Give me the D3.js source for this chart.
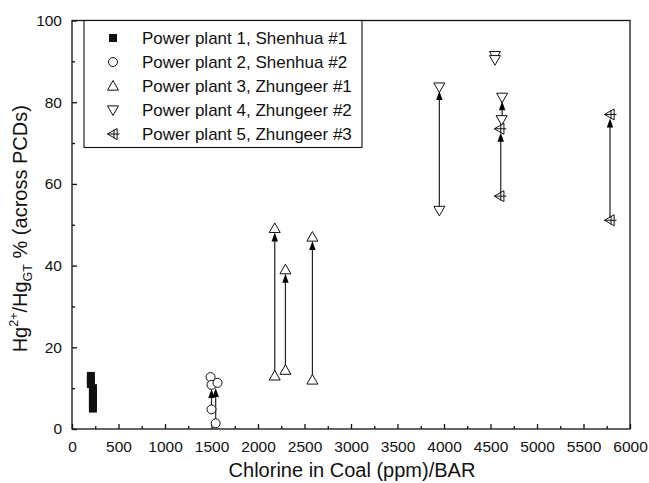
<!DOCTYPE html>
<html>
<head>
<meta charset="utf-8">
<script src="https://cdn.jsdelivr.net/npm/d3@7/dist/d3.min.js"></script>
<style>
  html, body { margin: 0; padding: 0; background: #fff; }
  svg { display: block; font-family: "Liberation Sans", Arial, sans-serif; }
</style>
</head>
<body>
<svg id="chart" width="649" height="483"></svg>
<script>
// ---- data ----
const seriesNames = [
  "Power plant 1, Shenhua #1",
  "Power plant 2, Shenhua #2",
  "Power plant 3, Zhungeer #1",
  "Power plant 4, Zhungeer #2",
  "Power plant 5, Zhungeer #3"
];
const seriesShapes = ["square", "circle", "up", "down", "leftcross"];

const plant1X = [203, 203, 203, 225, 225, 225, 225, 225, 225];
const plant1Y = [13, 12, 11, 10, 9, 8, 7, 6, 5];
const plant2X = [1490, 1500, 1565, 1500, 1545];
const plant2Y = [12.7, 10.8, 11.3, 4.8, 1.4];
const plant3X = [2180, 2295, 2585, 2180, 2295, 2585];
const plant3Y = [49.1, 39.0, 47.0, 13.0, 14.4, 12.0];
const plant4X = [3950, 3950, 4548, 4548, 4625, 4620];
const plant4Y = [83.7, 53.5, 91.4, 90.4, 81.2, 75.7];
const plant5X = [4600, 4600, 5785, 5785];
const plant5Y = [73.5, 57.0, 77.0, 51.1];

// arrows: x, from value, to value
const arrowX    = [1500, 1545, 2180, 2295, 2585, 3950, 4610, 4625, 5785];
const arrowFrom = [4.8, 1.4, 13.0, 14.4, 12.0, 53.5, 57.0, 75.7, 51.1];
const arrowTo   = [10.8, 11.0, 49.1, 39.0, 47.0, 83.7, 73.5, 81.2, 77.0];

const xTicks = [0, 500, 1000, 1500, 2000, 2500, 3000, 3500, 4000, 4500, 5000, 5500, 6000];
const yTicks = [0, 20, 40, 60, 80, 100];

// ---- layout ----
const svg = d3.select("#chart");
const L = 72, R = 630, T = 20.5, B = 429;
const x = d3.scaleLinear().domain([0, 6000]).range([L, R]);
const y = d3.scaleLinear().domain([0, 100]).range([B, T]);

const ink = "#111";
const FONT = "Liberation Sans, Arial, sans-serif";

// frame
svg.append("rect").attr("x", L).attr("y", T).attr("width", R - L).attr("height", B - T)
  .attr("fill", "none").attr("stroke", ink).attr("stroke-width", 1.3);

// x axis
const xAxis = d3.axisBottom(x).tickValues(xTicks).tickSize(-5).tickPadding(12).tickFormat(d3.format("d"));
const gx = svg.append("g").attr("transform", `translate(0,${B})`).call(xAxis);
gx.select(".domain").remove();
gx.selectAll("line").attr("stroke", ink).attr("stroke-width", 1.3);
gx.selectAll("text").attr("font-size", 15.5).attr("fill", ink).attr("font-family", FONT);
const xMinor = d3.axisBottom(x).tickValues(d3.range(250, 6000, 500)).tickSize(-3).tickFormat("");
const gxm = svg.append("g").attr("transform", `translate(0,${B})`).call(xMinor);
gxm.select(".domain").remove();
gxm.selectAll("line").attr("stroke", ink).attr("stroke-width", 1.3);

// y axis
const yAxis = d3.axisLeft(y).tickValues(yTicks).tickSize(-5).tickPadding(10).tickFormat(d3.format("d"));
const gy = svg.append("g").attr("transform", `translate(${L},0)`).call(yAxis);
gy.select(".domain").remove();
gy.selectAll("line").attr("stroke", ink).attr("stroke-width", 1.3);
gy.selectAll("text").attr("font-size", 15.5).attr("fill", ink).attr("font-family", FONT);
const yMinor = d3.axisLeft(y).tickValues(d3.range(10, 100, 20)).tickSize(-3).tickFormat("");
const gym = svg.append("g").attr("transform", `translate(${L},0)`).call(yMinor);
gym.select(".domain").remove();
gym.selectAll("line").attr("stroke", ink).attr("stroke-width", 1.3);

// axis titles
svg.append("text").attr("x", 352).attr("y", 477).attr("text-anchor", "middle")
  .attr("font-size", 20).attr("fill", ink).text("Chlorine in Coal (ppm)/BAR");

const yt = svg.append("text").attr("transform", `translate(27,${(T + B) / 2 + 4}) rotate(-90)`)
  .attr("text-anchor", "middle").attr("font-size", 20).attr("fill", ink);
yt.append("tspan").text("Hg");
yt.append("tspan").attr("font-size", 12.5).attr("dy", -9).text("2+");
yt.append("tspan").attr("dy", 9).text("/Hg");
yt.append("tspan").attr("font-size", 12.5).attr("dy", 5).text("GT");
yt.append("tspan").attr("dy", -5).text(" % (across PCDs)");

// ---- markers ----
function drawMarker(g, shape, cx, cy) {
  const s = 5.5;
  if (shape === "square") {
    g.append("rect").attr("x", cx - 4).attr("y", cy - 4).attr("width", 8).attr("height", 8)
      .attr("fill", ink);
  } else if (shape === "circle") {
    g.append("circle").attr("cx", cx).attr("cy", cy).attr("r", 4.5)
      .attr("fill", "#fff").attr("stroke", ink).attr("stroke-width", 1);
  } else if (shape === "up") {
    g.append("path").attr("d", `M${cx},${cy - s}L${cx + s},${cy + s * 0.75}L${cx - s},${cy + s * 0.75}Z`)
      .attr("fill", "#fff").attr("stroke", ink).attr("stroke-width", 1);
  } else if (shape === "down") {
    g.append("path").attr("d", `M${cx},${cy + s}L${cx + s},${cy - s * 0.75}L${cx - s},${cy - s * 0.75}Z`)
      .attr("fill", "#fff").attr("stroke", ink).attr("stroke-width", 1);
  } else if (shape === "leftcross") {
    g.append("path").attr("d", `M${cx - s},${cy}L${cx + s * 0.75},${cy - s}L${cx + s * 0.75},${cy + s}Z`)
      .attr("fill", "#fff").attr("stroke", ink).attr("stroke-width", 1);
    g.append("path").attr("d", `M${cx - s},${cy}H${cx + s + 1}M${cx + 1},${cy - s + 1}V${cy + s - 1}`)
      .attr("fill", "none").attr("stroke", ink).attr("stroke-width", 1);
  }
}

// arrows (under markers)
const ga = svg.append("g");
arrowX.forEach((xv, i) => {
  const px = x(xv), y0 = y(arrowFrom[i]), y1 = y(arrowTo[i]) + 3;
  ga.append("line").attr("x1", px).attr("x2", px).attr("y1", y0).attr("y2", y1 + 8)
    .attr("stroke", "#222").attr("stroke-width", 1.2);
});

const gm = svg.append("g");
const plantsX = [plant1X, plant2X, plant3X, plant4X, plant5X];
const plantsY = [plant1Y, plant2Y, plant3Y, plant4Y, plant5Y];
plantsX.forEach((xs, k) => {
  xs.forEach((xv, i) => drawMarker(gm, seriesShapes[k], x(xv), y(plantsY[k][i])));
});
// arrowheads drawn over markers
arrowX.forEach((xv, i) => {
  const px = x(xv), y1 = y(arrowTo[i]) + 3;
  gm.append("path").attr("d", `M${px},${y1 + 1}L${px + 3.2},${y1 + 10}L${px - 3.2},${y1 + 10}Z`)
    .attr("fill", "#000");
});

// ---- legend ----
const lg = svg.append("g");
lg.append("rect").attr("x", 84).attr("y", T).attr("width", 278).attr("height", 127)
  .attr("fill", "#fff").attr("stroke", ink).attr("stroke-width", 1.1);
seriesNames.forEach((name, i) => {
  const cy = 38 + i * 24;
  drawMarker(lg, seriesShapes[i], 113, cy);
  lg.append("text").attr("x", 142).attr("y", cy).attr("dy", "0.36em")
    .attr("font-size", 17).attr("fill", ink).text(name);
});
</script>
</body>
</html>
